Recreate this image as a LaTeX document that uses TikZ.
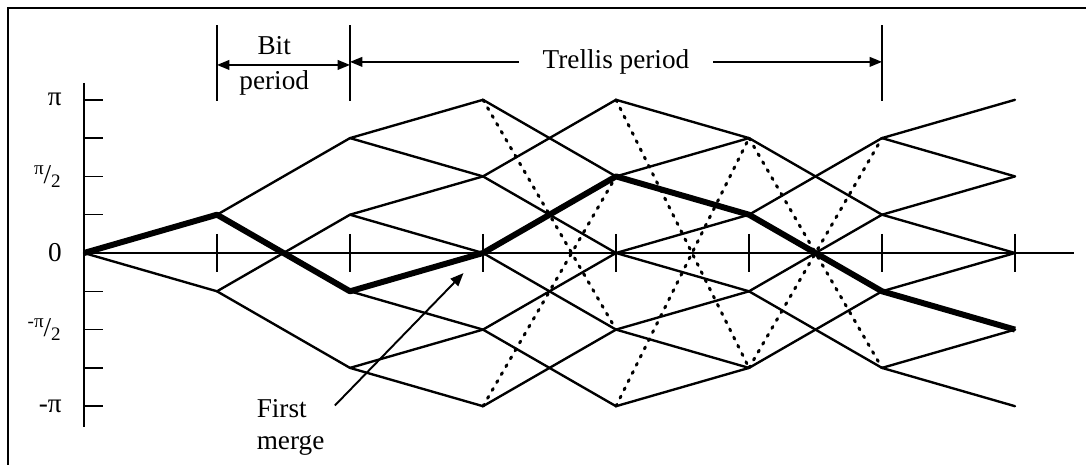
\documentclass[tikz,border=0pt]{standalone}
\usepackage{fontspec}
\setmainfont{Liberation Serif}
\usepackage{tikz}
\usetikzlibrary{arrows.meta,positioning,calc}
\tikzset{
  branch/.style={line width=1.35pt,line cap=round},
  wrapBranch/.style={line width=1.7pt,dash pattern=on 1.2pt off 4pt,line cap=round},
  pathLine/.style={line width=3.4pt,line join=round},
  axisLine/.style={line width=0.9pt},
  dimArrow/.style={{Triangle[length=7pt,width=5.5pt]}-{Triangle[length=7pt,width=5.5pt]},line width=0.9pt},
  pointer/.style={-{Triangle[length=7.5pt,width=6pt]},line width=1.1pt},
  lbl/.style={font=\fontsize{15.5}{18.2}\selectfont,inner sep=2pt},
}

\begin{document}
\begin{tikzpicture}[x=2.66cm,y=0.766cm]
  \useasboundingbox (-0.6316,-5.535) rectangle (7.5338,6.606);
  \draw[line width=0.9pt] (-0.5714,-5.7) -- (-0.5714,6.397) -- (7.7,6.397);

  \foreach \t/\levels in {0/{4},1/{3,5},2/{1,3,5,7},3/{0,2,4,6,8},
                          4/{0,2,4,6,8},5/{1,3,5,7},6/{1,3,5,7},7/{0,2,4,6,8}}
    \foreach \l in \levels \coordinate (n\t-\l) at (\t,\l-4);

  \coordinate (yTop) at (0,4.44);
  \coordinate (yBot) at (0,-4.54);
  \coordinate (xEnd) at (7.44,0);
  \draw[axisLine] (yTop) -- (yBot);
  \draw[axisLine] (n0-4) -- (xEnd);
  \foreach \l in {-4,...,4} \draw[axisLine] (0,\l) -- (0.143,\l);
  \foreach \t in {1,...,7} \draw[axisLine] (\t,0.5) -- (\t,-0.5);

  \foreach \l/\txt in {4/π, 2/{\textsuperscript{π}\kern-0.5pt/\textsubscript{2}}, 0/0,
                       -2/{\textsuperscript{-π}\kern-0.5pt/\textsubscript{2}}, -4/-π}
    \node[lbl,anchor=east] (ylbl\l) at (-0.139,\l) {\txt};

  \foreach \s/\a/\u/\b in {3/8/4/2, 3/0/4/6, 4/8/5/1, 4/0/5/7, 5/7/6/1, 5/1/6/7}
    \draw[wrapBranch] (n\s-\a) -- (n\u-\b);

  \foreach \t/\pairs in {
      0/{4/5,4/3},
      1/{5/7,5/3,3/5,3/1},
      2/{7/8,7/6,5/6,5/4,3/4,3/2,1/2,1/0},
      3/{8/6,6/8,6/4,4/6,4/2,2/4,2/0,0/2},
      4/{8/7,6/7,6/5,4/5,4/3,2/3,2/1,0/1},
      5/{7/5,5/7,5/3,3/5,3/1,1/3},
      6/{7/8,7/6,5/6,5/4,3/4,3/2,1/2,1/0}}{
    \pgfmathtruncatemacro\u{\t+1}
    \foreach \a/\b in \pairs \draw[branch] (n\t-\a) -- (n\u-\b);
  }

  \draw[pathLine] (n0-4) -- (n1-5) -- (n2-3) -- (n3-4) -- (n4-6) -- (n5-5) -- (n6-3) -- (n7-2);

  \foreach \t in {1,2,6}{
    \coordinate (mTop\t) at (\t,5.95);
    \coordinate (mBot\t) at (\t,3.97);
    \draw[axisLine] (mTop\t) -- (mBot\t);
  }
  \coordinate (bitL) at (1,4.91);
  \coordinate (bitR) at (2,4.91);
  \coordinate (trlL) at (2,4.99);
  \coordinate (trlR) at (6,4.99);
  \draw[dimArrow] (bitL) -- (bitR);
  \node[lbl,anchor=base] (bitTop) at (1.43,5.17) {Bit};
  \node[lbl,anchor=base] (bitBot) at (1.43,4.26) {period};
  \draw[dimArrow] (trlL) -- node[lbl,fill=white,inner xsep=13.5pt] (trlLbl) {Trellis period} (trlR);

  \node[lbl,align=left] (mergeLbl) at (1.553,-4.543) {First\\merge};
  \draw[pointer,shorten >=0.56cm] ($(mergeLbl.north east)+(0.05,-0.27)$) -- (n3-4);
\end{tikzpicture}
\end{document}
